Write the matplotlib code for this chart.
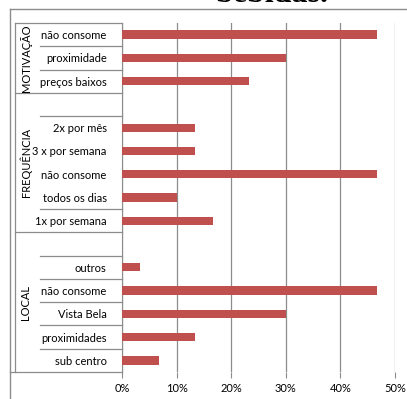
import matplotlib
matplotlib.use("Agg")
import matplotlib.pyplot as plt
import matplotlib.transforms as mtransforms

# ── Dados ──────────────────────────────────────────────────────────────────────
# linhas de cima para baixo; "" = linha vazia entre grupos
LABELS = [
    "não consome", "proximidade", "preços baixos",
    "", "2x por mês", "3 x por semana", "não consome", "todos os dias", "1x por semana",
    "", "outros", "não consome", "Vista Bela", "proximidades", "sub centro",
]
VALUES = [
    46.7, 30.0, 23.3,
    0, 13.3, 13.3, 46.7, 10.0, 16.7,
    0, 3.3, 46.7, 30.0, 13.3, 6.7,
]
GROUPS = ["MOTIVAÇÃO", "FREQUÊNCIA", "LOCAL"]
GROUP_SPANS = [(0, 3), (3, 9), (9, 15)]  # [início, fim) em índices de linha
TICKS = [0, 10, 20, 30, 40, 50]
TITLE = "bebidas."

BAR_COLOR = "#C0504D"
LINE_COLOR = "#8C8C8C"
FONT = "Lato"
FS = 8

W, H = 407, 399
fig = plt.figure(figsize=(W / 100, H / 100), dpi=100)

x0, x1, y0, y1 = 122, 395, 23, 372
ax = fig.add_axes([x0 / W, 1 - y1 / H, (x1 - x0) / W, (y1 - y0) / H])

ypos = list(range(len(LABELS)))
ax.barh(ypos, VALUES, height=0.36, color=BAR_COLOR, zorder=3)

ax.set_xlim(0, 50)
ax.set_ylim(len(LABELS) - 0.5, -0.5)
ax.set_xticks(TICKS)
ax.set_xticklabels([f"{t}%" for t in TICKS], fontsize=FS, family=FONT)
ax.tick_params(axis="x", length=4, color=LINE_COLOR, pad=4)
ax.set_yticks(ypos)
ax.set_yticklabels(LABELS, fontsize=FS, family=FONT)
ax.tick_params(axis="y", length=0, pad=11)
ax.xaxis.grid(True, color=LINE_COLOR, linewidth=0.9, zorder=0)
for side in ("top", "right", "bottom"):
    ax.spines[side].set_visible(False)
ax.spines["left"].set_color(LINE_COLOR)

# caixas da escala de categorias (eixo em pixels -> fração do eixo)
trans = mtransforms.blended_transform_factory(ax.transAxes, ax.transData)
def px(x):
    return (x - x0) / (x1 - x0)

inner_lines = [0.5, 1.5, 3.5, 7.5, 9.5, 10.5, 11.5, 12.5, 13.5]
for yb in inner_lines:
    ax.plot([px(40), 0], [yb, yb], color=LINE_COLOR, lw=0.9, transform=trans, clip_on=False)
for yb in [-0.5, 2.5, 8.5, 14.5]:
    x_start = px(10) if yb == 14.5 else px(15)
    ax.plot([x_start, 0], [yb, yb], color=LINE_COLOR, lw=0.9, transform=trans, clip_on=False)
ax.plot([px(15), px(15)], [-0.5, 14.5], color=LINE_COLOR, lw=0.9, transform=trans, clip_on=False)

for name, (a, b) in zip(GROUPS, GROUP_SPANS):
    ax.text(px(26), (a + b - 1) / 2, name, rotation=90, ha="center", va="center",
            fontsize=FS, family=FONT, transform=trans)

# moldura externa do gráfico
fig.add_artist(plt.Line2D([10 / W, 10 / W], [0, 1 - 9 / H], color=LINE_COLOR, lw=1))
fig.add_artist(plt.Line2D([10 / W, 1], [1 - 9 / H, 1 - 9 / H], color=LINE_COLOR, lw=1))

fig.text(272 / W, 1 - 2 / H, TITLE, ha="center", va="baseline",
         fontsize=23, fontweight="bold", family="Liberation Serif")

fig.savefig("out.png", dpi=100)
